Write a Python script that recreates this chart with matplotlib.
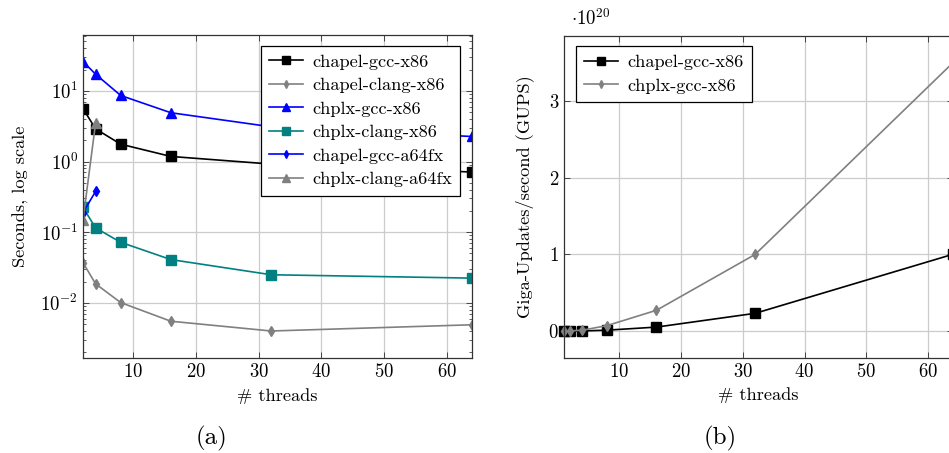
import matplotlib
matplotlib.use('Agg')
import matplotlib.pyplot as plt
import numpy as np

plt.rcParams['font.family'] = ['cmr10', 'DejaVu Serif']
plt.rcParams['mathtext.fontset'] = 'cm'
plt.rcParams['axes.formatter.use_mathtext'] = True
plt.rcParams['font.size'] = 13.2

# (a) run time, seconds
threads = [2, 4, 8, 16, 32, 64]
chapel_gcc_x86 = [5.6, 2.9, 1.76, 1.18, 0.92, 0.71]
chapel_clang_x86 = [0.037, 0.0186, 0.0101, 0.0055, 0.0040, 0.0049]
chplx_gcc_x86 = [26.0, 17.2, 8.6, 4.9, 3.1, 2.26]
chplx_clang_x86 = [0.224, 0.115, 0.072, 0.041, 0.025, 0.0224]
threads_a64fx = [2, 4]
chapel_gcc_a64fx = [0.19, 0.377]
chplx_clang_a64fx = [0.15, 3.5]

# (b) GUPS
threads_b = [1, 2, 4, 8, 16, 32, 64]
gups_chapel_gcc = [0.0, 0.0, 0.0, 0.01e20, 0.05e20, 0.23e20, 1.0e20]
gups_chplx_gcc = [0.0, 0.0, 0.01e20, 0.07e20, 0.27e20, 1.0e20, 3.5e20]

fig = plt.figure(figsize=(9.49, 4.53), dpi=100)
ax1 = fig.add_axes([0.0875, 0.2097, 0.4099, 0.713])
ax2 = fig.add_axes([0.5943, 0.2104, 0.4094, 0.711])


def style(ax):
    ax.grid(True, which='major', color='#cccccc', linewidth=0.9)
    ax.set_axisbelow(True)
    ax.tick_params(which='both', direction='in', top=True, right=True, labelsize=13.5)
    ax.tick_params(which='major', length=4.5, width=0.7, color='#444444')
    ax.tick_params(which='minor', length=2.5, width=0.6, color='#444444')
    for s in ax.spines.values():
        s.set_linewidth(0.9)
        s.set_color('#333333')


def make_legend(ax, **kw):
    leg = ax.legend(fancybox=False, edgecolor='black', framealpha=1, fontsize=13.2,
                    handlelength=1.85, handletextpad=0.5, borderpad=0.45, labelspacing=0.42,
                    borderaxespad=0, **kw)
    leg.get_frame().set_linewidth(0.9)
    for t in leg.get_texts():
        t.set_ha('center')
    for h in leg.legend_handles:
        h.set_markersize(h.get_markersize() * 0.8)
    return leg


lw = 1.2
ax1.plot(threads, chapel_gcc_x86, color='black', marker='s', ms=6.5, lw=lw, label='chapel-gcc-x86')
ax1.plot(threads, chapel_clang_x86, color='gray', marker='d', ms=5, lw=lw, label='chapel-clang-x86')
ax1.plot(threads, chplx_gcc_x86, color='blue', marker='^', ms=6.5, lw=lw, label='chplx-gcc-x86')
ax1.plot(threads, chplx_clang_x86, color='teal', marker='s', ms=6.5, lw=lw, label='chplx-clang-x86')
ax1.plot(threads_a64fx, chapel_gcc_a64fx, color='blue', marker='d', ms=5, lw=lw, label='chapel-gcc-a64fx')
ax1.plot(threads_a64fx, chplx_clang_a64fx, color='gray', marker='^', ms=6.5, lw=lw, label='chplx-clang-a64fx')
ax1.set_yscale('log')
ax1.set_xlim(2, 64)
ax1.set_ylim(10 ** -2.78, 10 ** 1.79)
ax1.set_xticks([10, 20, 30, 40, 50, 60])
ax1.set_xlabel('# threads')
ax1.set_ylabel('Seconds, log scale')
ax1.xaxis.set_label_coords(0.5, -0.093)
ax1.yaxis.set_label_coords(-0.14, 0.5)
style(ax1)
make_legend(ax1, loc='upper right', bbox_to_anchor=(0.969, 0.967))

ax2.plot(threads_b, np.array(gups_chapel_gcc) / 1e20, color='black', marker='s', ms=6.5, lw=lw,
         label='chapel-gcc-x86', clip_on=False)
ax2.plot(threads_b, np.array(gups_chplx_gcc) / 1e20, color='gray', marker='d', ms=5, lw=lw,
         label='chplx-gcc-x86', clip_on=False)
ax2.set_xlim(1, 64)
ax2.set_ylim(-0.35, 3.86)
ax2.set_xticks([10, 20, 30, 40, 50, 60])
ax2.set_yticks([0, 1, 2, 3])
ax2.set_xlabel('# threads')
ax2.set_ylabel('Giga-Updates/second (GUPS)')
ax2.xaxis.set_label_coords(0.5, -0.093)
ax2.yaxis.set_label_coords(-0.078, 0.5)
style(ax2)
make_legend(ax2, loc='upper left', bbox_to_anchor=(0.031, 0.967))
fig.text(571 / 949, 1 - 19 / 453, r'$\cdot 10^{20}$', fontsize=13.5, ha='left', va='center')

fig.text(212 / 949, 1 - 438 / 453, '(a)', fontsize=18, ha='center', va='center')
fig.text(720 / 949, 1 - 438 / 453, '(b)', fontsize=18, ha='center', va='center')

fig.savefig('out.png', dpi=100)
